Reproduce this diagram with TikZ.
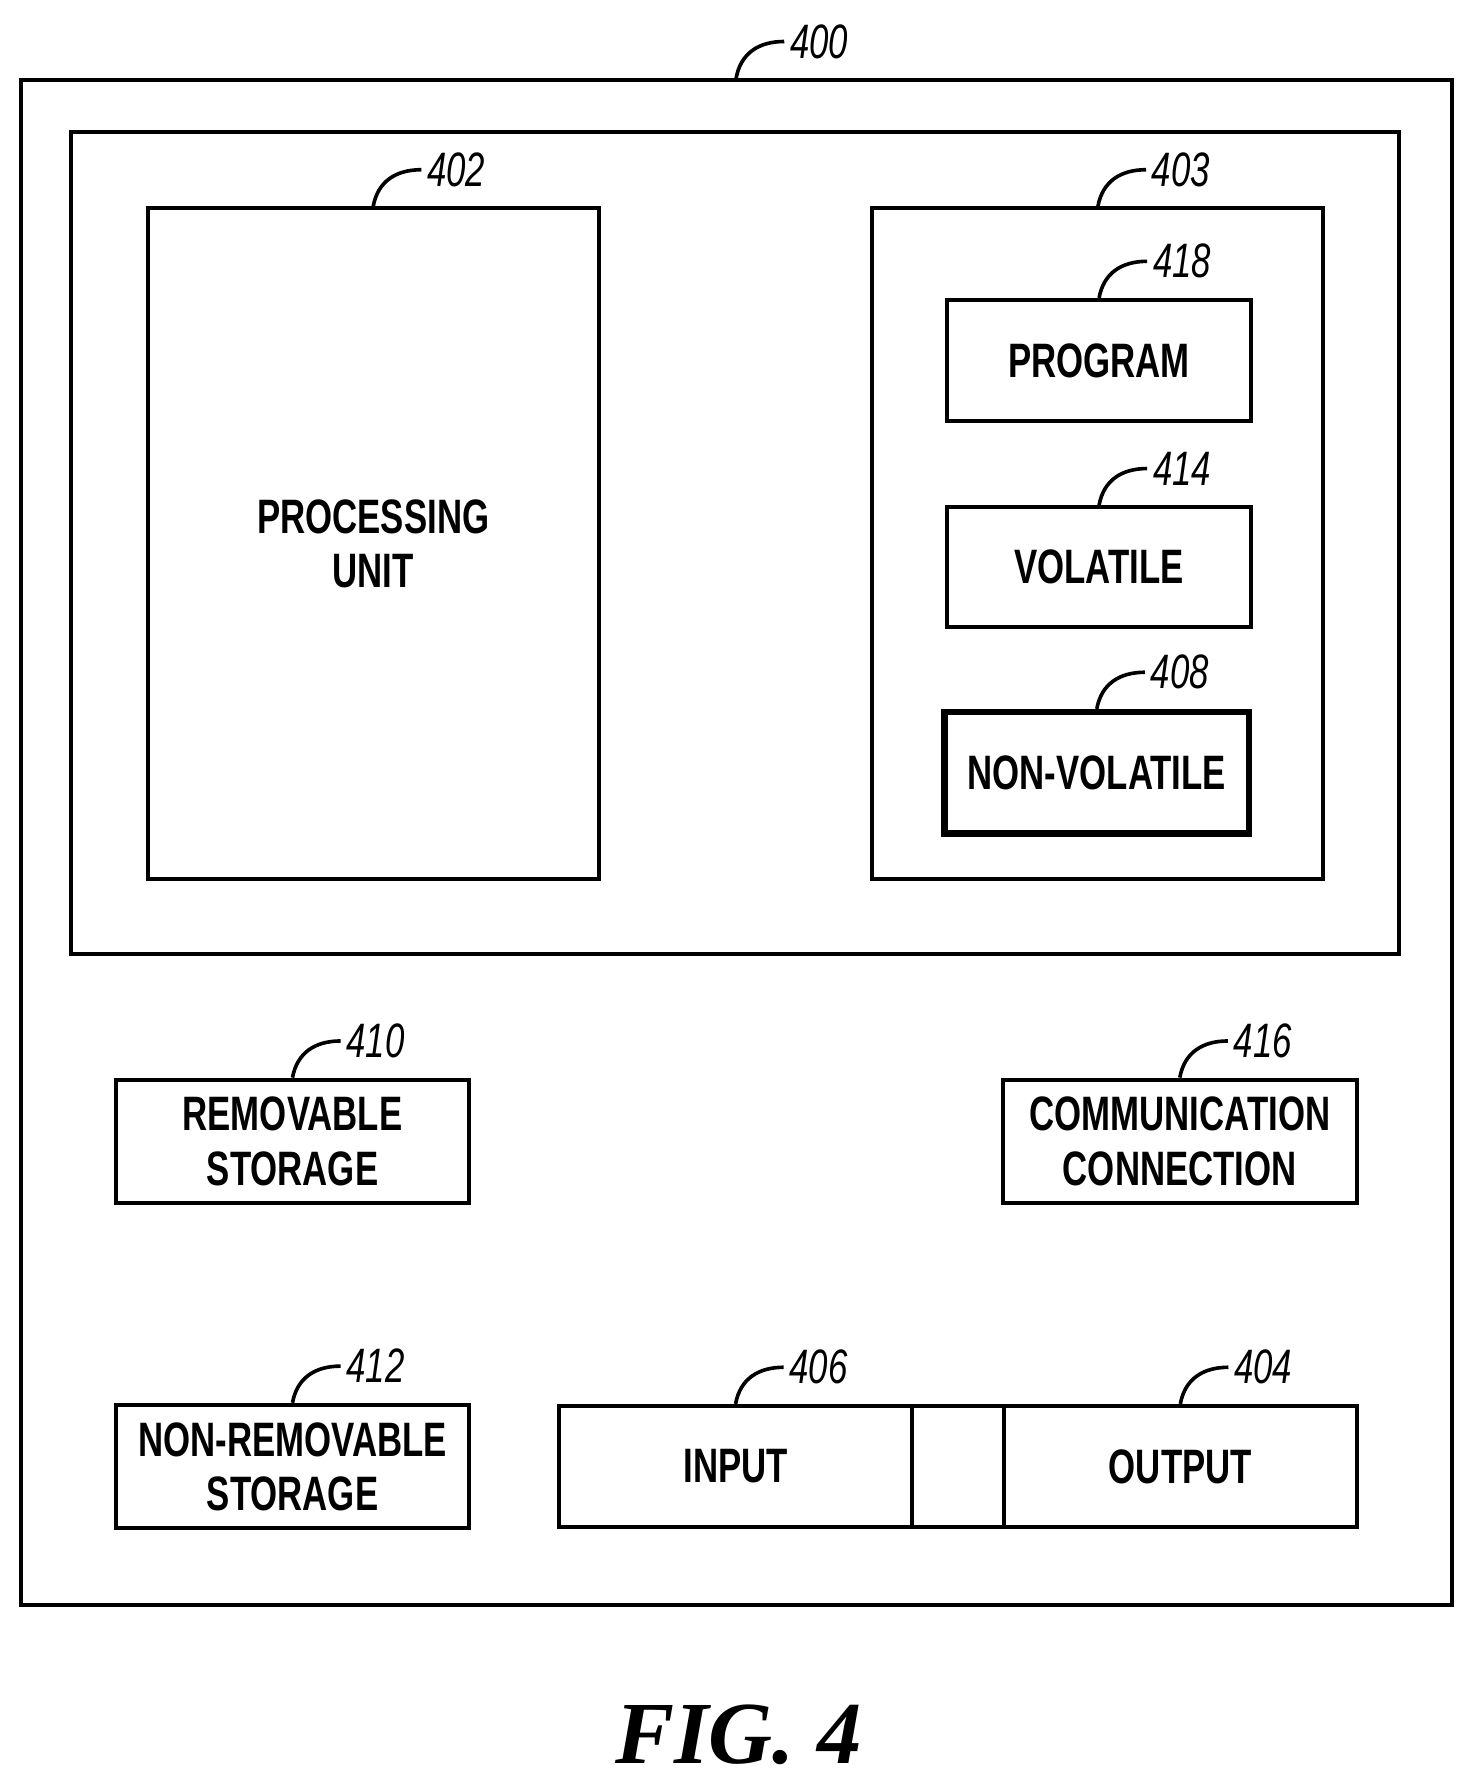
\documentclass[tikz,border=0pt]{standalone}
\usepackage{fontspec}
\setmainfont{Liberation Sans}
\newfontfamily\cond[FakeStretch=0.72]{Liberation Sans}
\newfontfamily\figf{Liberation Serif}
\begin{document}
\begin{tikzpicture}[x=0.01cm,y=-0.01cm,
  box/.style={draw,line width=1pt,rectangle,inner sep=0pt,font=\cond\bfseries\fontsize{12}{13.5}\selectfont,align=center},
  lead/.style={line width=0.9pt},
  num/.style={anchor=west,inner sep=1pt,font=\cond\itshape\fontsize{12}{13}\selectfont}]
\useasboundingbox (0,0) rectangle (1280,1560);
\newcommand\bx[5]{\node[box,minimum width=#4*0.01cm-#2*0.01cm,minimum height=#5*0.01cm-#3*0.01cm] (#1) at ({(#2+#4)/2},{(#3+#5)/2})}
\bx{b400}{18}{70}{1268}{1402}{};
\bx{inner}{62}{115}{1222}{833}{};
\bx{b402}{129}{182}{523}{768}{PROCESSING\\UNIT};
\bx{b403}{762}{182}{1156}{768}{};
\bx{b418}{827}{262}{1093}{368}{PROGRAM};
\bx{b414}{827}{443}{1093}{548}{VOLATILE};
\node[box,line width=1.6pt,minimum width=266*0.01cm,minimum height=106*0.01cm] (b408) at (958,675) {NON-VOLATILE};
\bx{b410}{101}{943}{410}{1051}{REMOVABLE\\STORAGE};
\bx{b416}{876}{943}{1185}{1051}{COMMUNICATION\\CONNECTION};
\bx{b412}{101}{1227}{410}{1335}{NON-REMOVABLE\\STORAGE};
\bx{b406}{488}{1228}{797}{1334}{INPUT};
\bx{mid}{797}{1228}{877}{1334}{};
\bx{b404}{877}{1228}{1185}{1334}{OUTPUT};
\foreach \n in {400,402,403,418,414,408,410,416,412,406,404}{
  \draw[lead] (b\n.north) .. controls +(4,-22) and +(-22,0) .. ++(42,-32) node[num]{\n};
}
\node[font=\figf\bfseries\itshape\fontsize{22}{24}\selectfont] (fig) at (645,1515) {FIG. 4};
\end{tikzpicture}
\end{document}
